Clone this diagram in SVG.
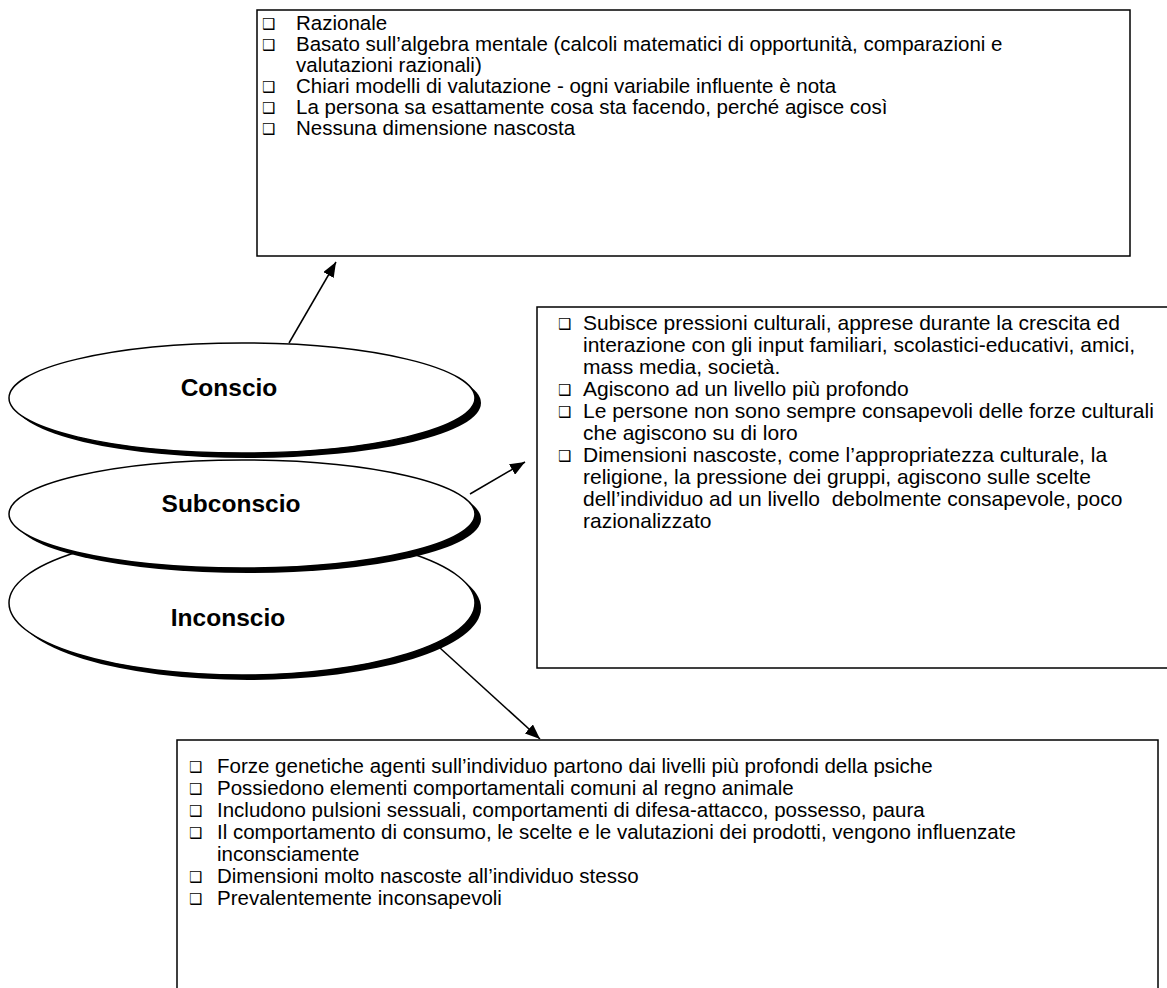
<svg xmlns="http://www.w3.org/2000/svg" width="1167" height="988" viewBox="0 0 1167 988">
<style>
.box{fill:#fff;stroke:#000;stroke-width:1.5}
.t{font-family:"Liberation Sans",Arial,sans-serif;font-size:20.5px;fill:#000;white-space:pre}
.tm{font-family:"Liberation Sans",Arial,sans-serif;font-size:21px;fill:#000;white-space:pre}
.b{font-family:"DejaVu Sans",sans-serif;font-size:15px;fill:#000}
.lbl{font-family:"Liberation Sans",Arial,sans-serif;font-size:24.5px;font-weight:bold;fill:#000;text-anchor:middle}
.ell{fill:#fff;stroke:#000;stroke-width:1.5}
.sh{fill:#000}
.con{stroke:#000;stroke-width:1.5;fill:none}
</style>
<defs>
<marker id="ah" viewBox="0 0 15 12" refX="15" refY="6" markerWidth="15" markerHeight="12" markerUnits="userSpaceOnUse" orient="auto">
<path d="M0,0 L15,6 L0,12 z" fill="#000"/>
</marker>
</defs>
<g id="box-conscio">
<rect class="box" x="257" y="10" width="873" height="246"/>
<text class="b" x="262" y="29">❑</text><text class="t" x="296" y="30">Razionale</text>
<text class="b" x="262" y="50">❑</text><text class="t" x="296" y="51">Basato sull’algebra mentale (calcoli matematici di opportunità, comparazioni e</text>
<text class="t" x="296" y="72">valutazioni razionali)</text>
<text class="b" x="262" y="92">❑</text><text class="t" x="296" y="93">Chiari modelli di valutazione - ogni variabile influente è nota</text>
<text class="b" x="262" y="113">❑</text><text class="t" x="296" y="114">La persona sa esattamente cosa sta facendo, perché agisce così</text>
<text class="b" x="262" y="134">❑</text><text class="t" x="296" y="135">Nessuna dimensione nascosta</text>
</g>
<g id="box-subconscio">
<rect class="box" x="537" y="307" width="640" height="361"/>
<text class="b" x="558" y="329">❑</text><text class="tm" x="583" y="330">Subisce pressioni culturali, apprese durante la crescita ed</text>
<text class="tm" x="583" y="352">interazione con gli input familiari, scolastici-educativi, amici,</text>
<text class="tm" x="583" y="374">mass media, società.</text>
<text class="b" x="558" y="395">❑</text><text class="tm" x="583" y="396">Agiscono ad un livello più profondo</text>
<text class="b" x="558" y="417">❑</text><text class="tm" x="583" y="418">Le persone non sono sempre consapevoli delle forze culturali</text>
<text class="tm" x="583" y="440">che agiscono su di loro</text>
<text class="b" x="558" y="461">❑</text><text class="tm" x="583" y="462">Dimensioni nascoste, come l’appropriatezza culturale, la</text>
<text class="tm" x="583" y="484">religione, la pressione dei gruppi, agiscono sulle scelte</text>
<text class="tm" x="583" y="506">dell’individuo ad un livello  debolmente consapevole, poco</text>
<text class="tm" x="583" y="528">razionalizzato</text>
</g>
<g id="box-inconscio">
<rect class="box" x="177" y="740" width="981" height="270"/>
<text class="b" x="189" y="772">❑</text><text class="t" x="217" y="773">Forze genetiche agenti sull’individuo partono dai livelli più profondi della psiche</text>
<text class="b" x="189" y="794">❑</text><text class="t" x="217" y="795">Possiedono elementi comportamentali comuni al regno animale</text>
<text class="b" x="189" y="816">❑</text><text class="t" x="217" y="817">Includono pulsioni sessuali, comportamenti di difesa-attacco, possesso, paura</text>
<text class="b" x="189" y="838">❑</text><text class="t" x="217" y="839">Il comportamento di consumo, le scelte e le valutazioni dei prodotti, vengono influenzate</text>
<text class="t" x="217" y="861">inconsciamente</text>
<text class="b" x="189" y="882">❑</text><text class="t" x="217" y="883">Dimensioni molto nascoste all’individuo stesso</text>
<text class="b" x="189" y="904">❑</text><text class="t" x="217" y="905">Prevalentemente inconsapevoli</text>
</g>
<g id="node-inconscio">
<ellipse class="sh" cx="248" cy="608" rx="233" ry="72"/>
<ellipse class="ell" cx="242" cy="603" rx="233" ry="72"/>
<text class="lbl" x="228" y="626">Inconscio</text>
</g>
<g id="node-subconscio">
<ellipse class="sh" cx="248" cy="519" rx="233" ry="54"/>
<ellipse class="ell" cx="242" cy="514" rx="233" ry="54"/>
<text class="lbl" x="231" y="512">Subconscio</text>
</g>
<g id="node-conscio">
<ellipse class="sh" cx="248" cy="403" rx="233" ry="55"/>
<ellipse class="ell" cx="242" cy="398" rx="233" ry="55"/>
<text class="lbl" x="229" y="396">Conscio</text>
</g>
<g id="connectors">
<line class="con" x1="289" y1="343" x2="336" y2="262" marker-end="url(#ah)"/>
<line class="con" x1="470" y1="494" x2="525" y2="462" marker-end="url(#ah)"/>
<line class="con" x1="440" y1="648" x2="540" y2="739" marker-end="url(#ah)"/>
</g>
</svg>
